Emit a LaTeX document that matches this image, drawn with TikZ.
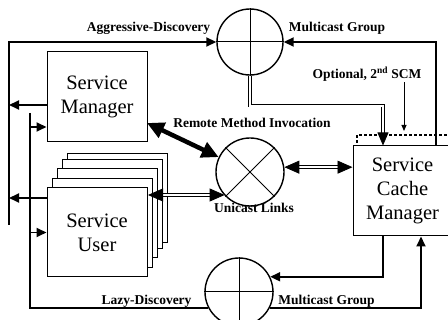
\documentclass[tikz,border=0pt]{standalone}
\usepackage{fontspec}
\setmainfont{Liberation Serif}
\usetikzlibrary{arrows.meta,calc}
\begin{document}
\begin{tikzpicture}[x=1pt,y=-1pt,
  box/.style={draw,line width=1pt,fill=white,inner sep=0pt,align=center,font=\fontsize{20.5}{24}\selectfont},
  back/.style={draw,line width=0.9pt,fill=white,minimum width=100pt,minimum height=89pt,inner sep=0pt},
  lbl/.style={font=\fontsize{13.5}{15}\selectfont\bfseries,inner sep=0pt,anchor=base},
  ring/.style={draw,circle,line width=1.4pt,inner sep=0pt},
  cross/.style={line width=1pt},
  conn/.style={line width=1.8pt},
  tip/.style={-{Triangle[length=10pt,width=9pt]}},
  dbl/.style={double,double distance=2pt,line width=0.8pt},
  dtip/.style={-{Triangle[length=13pt,width=11pt]}},
  dtips/.style={{Triangle[length=15pt,width=13pt]}-{Triangle[length=15pt,width=13pt]}},
  rmi/.style={line width=4.5pt,{Triangle[length=17pt,width=16pt]}-{Triangle[length=17pt,width=16pt]}}
]
\useasboundingbox (0,0) rectangle (448,320);

% circles
\node[ring,minimum size=66pt] (topc) at (250,42) {};
\node[ring,minimum size=68pt] (midc) at (250,172) {};
\node[ring,minimum size=68pt] (botc) at (239,292) {};
\draw[cross] (topc.north) -- (topc.south) (topc.west) -- (topc.east);
\draw[cross] (midc.45) -- (midc.225) (midc.135) -- (midc.315);
\draw[cross] (botc.north) -- (botc.south) (botc.west) -- (botc.east);

% boxes
\node[box,minimum width=100pt,minimum height=90pt] (sm) at (97,97) {Service\\Manager};
\node[back] (su4) at (117,197.5) {};
\node[back] (su3) at (112.5,203.5) {};
\node[back] (su2) at (107.5,212.5) {};
\node[back] (su1) at (102.5,222.5) {};
\node[box,minimum width=100pt,minimum height=89pt] (su) at (97,232.5) {Service\\User};
\node[box,minimum width=99pt,minimum height=90pt] (scm) at (402.5,191) {Service\\Cache\\Manager};

% optional second SCM
\draw[line width=2.4pt,dash pattern=on 3pt off 2pt] (357,143) |- (452,135);

% labels
\node[lbl] (agg) at (148.5,32) {Aggressive-Discovery};
\node[lbl] (mg1) at (337,32) {Multicast Group};
\node[lbl] (opt) at (367,79) {Optional, 2\textsuperscript{nd} SCM};
\node[lbl] (rmil) at (252,128) {Remote Method Invocation};
\node[lbl] (uc) at (254,213) {Unicast Links};
\node[lbl] (lazy) at (146.5,305) {Lazy-Discovery};
\node[lbl] (mg2) at (326.5,305) {Multicast Group};

% left buses
\coordinate (busAb) at (9,225);
\draw[conn,tip] (busAb) |- (topc.west);
\coordinate (smA) at (47,105);
\draw[conn,tip] (smA) -- (smA -| busAb);
\coordinate (suA) at (47,198);
\draw[conn,tip] (suA) -- (suA -| busAb);

\coordinate (busBt) at (30,113);
\draw[conn] (busBt) |- (botc.208);
\coordinate (smB) at (30,127);
\draw[conn,tip] (smB) -- (smB -| sm.west);
\draw[conn,tip] (su.west -| busBt) -- (su.west);

% right side
\draw[conn,tip] ([xshift=33.5pt]scm.north) |- (topc.east);
\draw[dbl,dtip] (topc.south) -- ++(0,30) -| ([xshift=-19.5pt]scm.north);
\draw[conn,tip] ([xshift=-19.5pt]scm.south) |- (botc.26);
\draw[conn,tip] (botc.332) -| ([xshift=18.5pt]scm.south);

\coordinate (optE) at (404,131);
\draw[line width=0.9pt,-{Triangle[length=6pt,width=5pt]}] (optE |- opt.south) -- (optE);

% invocation and unicast
\coordinate (rmiA) at (147,123);
\draw[rmi] (rmiA) -- (midc);
\coordinate (ucA) at (148,195);
\draw[dbl,dtips] (ucA) -- (ucA -| midc.223);
\draw[dbl,dtips] (midc.8) -- (midc.8 -| scm.west);
\end{tikzpicture}
\end{document}
